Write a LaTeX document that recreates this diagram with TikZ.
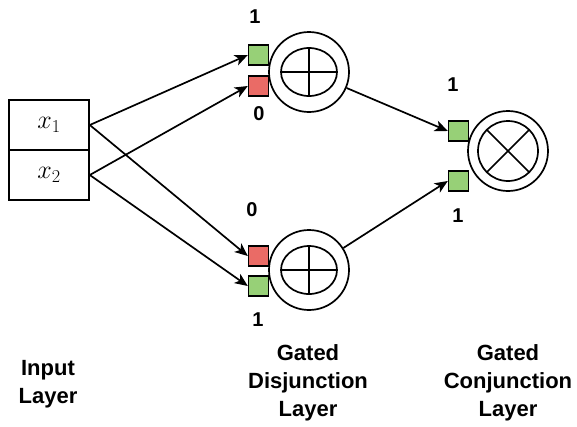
\documentclass[tikz,border=0pt]{standalone}
\usepackage{fix-cm}
\usepackage{fontspec}
\setsansfont{Liberation Sans}
\usetikzlibrary{arrows.meta,positioning}
\definecolor{gateon}{HTML}{97D077}
\definecolor{gateoff}{HTML}{EA6B66}
\tikzset{
  cell/.style={draw,line width=1.6pt,minimum width=80pt,minimum height=50pt,inner sep=0pt,font=\fontsize{26}{30}\selectfont},
  gate/.style={draw,line width=1.4pt,minimum size=20pt,inner sep=0pt},
  unit/.style={draw,circle,line width=1.7pt,minimum size=80pt,inner sep=0pt},
  bit/.style={font=\fontsize{20}{24}\selectfont\sffamily\bfseries,inner sep=0pt},
  layer/.style={font=\fontsize{22}{28}\selectfont\sffamily\bfseries,align=center,inner sep=0pt},
  conn/.style={line width=1.7pt,-{Stealth[length=13pt,width=11pt,inset=3.5pt]}}
}
\begin{document}
\begin{tikzpicture}[x=1pt,y=-1pt]
		\useasboundingbox (0,0) rectangle (577,426);
		% input layer
		\node[cell] (x1) at (49,125) {$x_1$};
		\node[cell] (x2) at (49,175) {$x_2$};
		% gated disjunction units
		\node[unit] (disjA) at (309,72) {};
		\node[unit] (disjB) at (309,270) {};
		\foreach \u in {disjA,disjB} {
			\draw[line width=1.7pt] (\u) ellipse (28 and 24);
			\draw[line width=1.7pt] (\u) ++(-28,0) -- ++(56,0) (\u) ++(0,-24) -- ++(0,48);
		}
		% gated conjunction unit
		\node[unit] (conj) at (508,151) {};
		\draw[line width=1.7pt] (conj) circle (30);
		\draw[line width=1.7pt] (conj) ++(-21.2,-21.2) -- ++(42.4,42.4) (conj) ++(-21.2,21.2) -- ++(42.4,-42.4);
		% gates
		\node[gate,fill=gateon]  (gA1) at (258.5,55) {};
		\node[gate,fill=gateoff] (gA0) at (258.5,86) {};
		\node[gate,fill=gateoff] (gB0) at (258.5,256) {};
		\node[gate,fill=gateon]  (gB1) at (258.5,286) {};
		\node[gate,fill=gateon]  (gC1) at (458.5,131) {};
		\node[gate,fill=gateon]  (gC2) at (458.5,181) {};
		\node[bit] (bA1) at (255,17) {1};
		\node[bit] (bA0) at (259,114) {0};
		\node[bit] (bB0) at (252,210) {0};
		\node[bit] (bB1) at (258,320) {1};
		\node[bit] (bC1) at (453,85) {1};
		\node[bit] (bC2) at (458,216) {1};
		% connections
		\draw[conn] (x1.east) -- (gA1.west);
		\draw[conn] (x2.east) -- (gA0.west);
		\draw[conn] (x1.east) -- (gB0.west);
		\draw[conn] (x2.east) -- (gB1.west);
		\draw[conn] (disjA) -- (gC1.west);
		\draw[conn] (disjB) -- (gC2.west);
		% layer names
		\node[layer] (inLayer) at (48,384) {Input\\Layer};
		\node[layer] (disjLayer) at (308,383) {Gated\\Disjunction\\Layer};
		\node[layer] (conjLayer) at (508,383) {Gated\\Conjunction\\Layer};
\end{tikzpicture}
\end{document}
